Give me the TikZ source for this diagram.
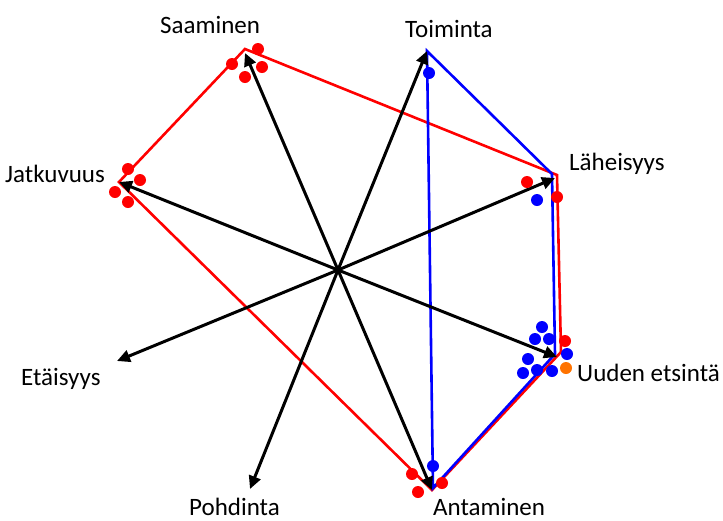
\documentclass[tikz,border=0pt]{standalone}
\usepackage{fontspec}
\setmainfont{Carlito}
\usetikzlibrary{arrows.meta}
\begin{document}
\begin{tikzpicture}[x=1pt,y=-1pt,
  axis/.style={black,line width=3pt,-{Triangle[length=13pt,width=12pt]}},
  redline/.style={red,line width=2.6pt,line join=miter},
  blueline/.style={blue,line width=2.6pt,line join=miter},
  rdot/.style={circle,fill=red,inner sep=0pt,minimum size=12pt},
  bdot/.style={circle,fill=blue,inner sep=0pt,minimum size=12pt},
  odot/.style={circle,fill=orange!90!red,inner sep=0pt,minimum size=12pt},
  lbl/.style={font=\fontsize{25}{28}\selectfont,inner sep=0pt,anchor=base west}]
\useasboundingbox (0,0) rectangle (723,520);
% axis ends
\coordinate (O) at (338,270);
\coordinate (Sa) at (245,53);
\coordinate (To) at (427,51);
\coordinate (La) at (555,178);
\coordinate (Uu) at (557,357);
\coordinate (An) at (432,490);
\coordinate (Po) at (250,489);
\coordinate (Et) at (117,361);
\coordinate (Ja) at (119,182);
% polygon vertices
\coordinate (rSa) at (245,49);
\coordinate (rLa) at (557,175);
\coordinate (rUu) at (561,352);
\coordinate (rAn) at (432,490);
\coordinate (rJa) at (119,182);
\coordinate (bTo) at (427,51);
\coordinate (bLa) at (552,174);
\coordinate (bUu) at (555,354);
\coordinate (bAn) at (433,488);
% red polygon
\draw[redline] (rSa) -- (rLa) -- (rUu) -- (rAn) -- (rJa) -- cycle;
% blue polygon
\draw[blueline] (bTo) -- (bLa) -- (bUu) -- (bAn) -- cycle;
% axes
\foreach \p in {Sa,To,La,Uu,An,Po,Et,Ja} \draw[axis] (O) -- (\p);
% dots
\node[rdot] (d1) at (258,49) {};
\node[rdot] (d2) at (232,64) {};
\node[rdot] (d3) at (262,67) {};
\node[rdot] (d4) at (245,77) {};
\node[rdot] (d5) at (128,169) {};
\node[rdot] (d6) at (140,180) {};
\node[rdot] (d7) at (115,192) {};
\node[rdot] (d8) at (128,202) {};
\node[bdot] (d9) at (429,73) {};
\node[rdot] (d10) at (527,182) {};
\node[rdot] (d11) at (557,197) {};
\node[bdot] (d12) at (537,200) {};
\node[bdot] (d13) at (542,327) {};
\node[bdot] (d14) at (535,339) {};
\node[bdot] (d15) at (549,339) {};
\node[bdot] (d16) at (528,359) {};
\node[bdot] (d17) at (523,373) {};
\node[bdot] (d18) at (537,370) {};
\node[bdot] (d19) at (552,371) {};
\node[bdot] (d20) at (567,354) {};
\node[rdot] (d21) at (565,341) {};
\node[odot] (d22) at (566,368) {};
\node[bdot] (d23) at (433,466) {};
\node[rdot] (d24) at (412,474) {};
\node[rdot] (d25) at (442,483) {};
\node[rdot] (d26) at (418,492) {};
% labels
\node[lbl] (tSa) at (160,33) {Saaminen};
\node[lbl] (tTo) at (405,37) {Toiminta};
\node[lbl] (tLa) at (569,170) {Läheisyys};
\node[lbl] (tUu) at (577,381) {Uuden etsintä};
\node[lbl] (tAn) at (433,515) {Antaminen};
\node[lbl] (tPo) at (189,515) {Pohdinta};
\node[lbl] (tEt) at (21,385) {Etäisyys};
\node[lbl] (tJa) at (5,182) {Jatkuvuus};
\end{tikzpicture}
\end{document}
